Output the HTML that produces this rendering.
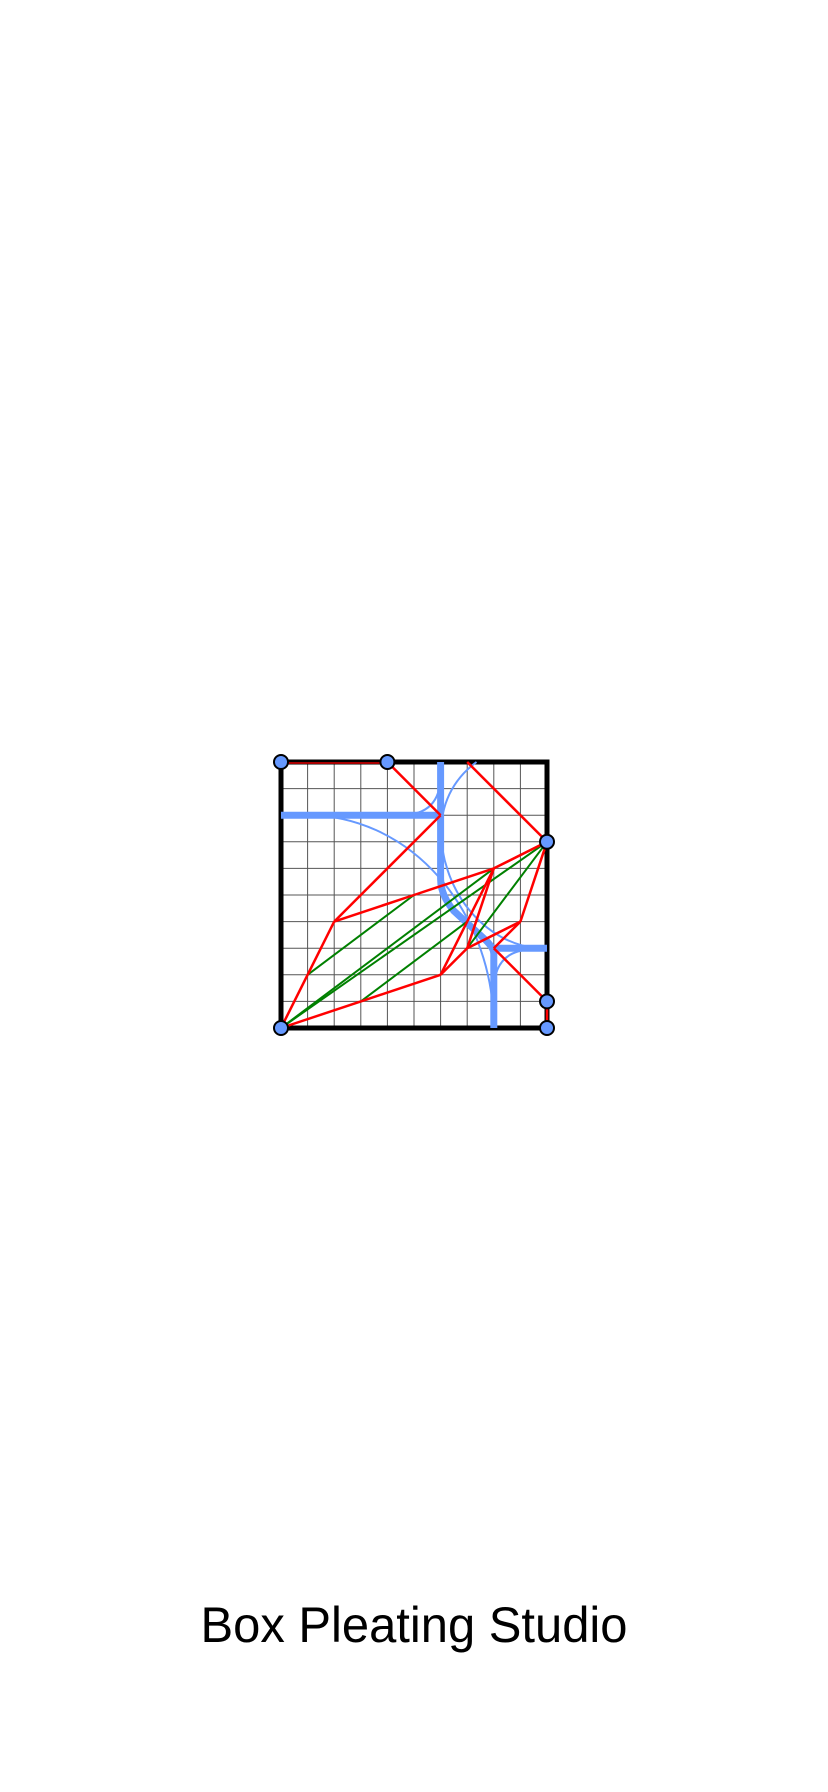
<!DOCTYPE html>
<html><head><meta charset="utf-8"><style>
html,body{margin:0;padding:0;background:#fff;}
svg{display:block;}
</style></head><body>
<svg width="828" height="1792" viewBox="0 0 828 1792">
<rect x="0" y="0" width="828" height="1792" fill="#ffffff"/>
<g id="cp"></g>
<text x="414" y="1642" text-anchor="middle" font-family="'Liberation Sans', 'DejaVu Sans', sans-serif" font-size="50" textLength="427" lengthAdjust="spacingAndGlyphs" fill="#000">Box Pleating Studio</text>
</svg>
<script>
const gridSize = 10;
const vertices = [[0,0],[4,0],[10,3],[10,9],[10,10],[0,10]];
const redLines = [[4,0,6,2],[7,0,10,3],[6,2,2,6],[2,6,1,8],[1,8,0,10],[2,6,5,5],[5,5,8,4],[8,4,10,3],[0,10,3,9],[3,9,6,8],[6,8,7,6],[6,8,7,7],[8,4,7,6],[8,4,7,7],[7,7,9,6],[9,6,10,3],[9,6,8,7],[8,7,10,9],[10,9,10,10]];
const greenLines = [[0,10,8,4],[0,10,10,3],[1,8,5,5],[3,9,7,6],[7,7,10,3]];
const thickBlue = [[0,2,6,2],[8,7,10,7],[8,7,8,10]];

const ox = 281, oy = 762, cell = 26.6;
const sx = v => ox + v*cell, sy = v => oy + v*cell;
const NS = 'http://www.w3.org/2000/svg';
const g = document.getElementById('cp');
function mk(tag, attrs){ const e = document.createElementNS(NS, tag); for (const k in attrs) e.setAttribute(k, attrs[k]); g.appendChild(e); return e; }

for (let i = 1; i < gridSize; i++) {
  const a = mk('line', {x1:sx(i), y1:sy(0), x2:sx(i), y2:sy(gridSize), stroke:'#555', 'stroke-width':1});
  
  
  const b = mk('line', {x1:sx(0), y1:sy(i), x2:sx(gridSize), y2:sy(i), stroke:'#555', 'stroke-width':1});
  
  
}
const border = mk('rect', {x:sx(0), y:sy(0), width:gridSize*cell, height:gridSize*cell, fill:'none', stroke:'#000', 'stroke-width':5});


const topEdge = mk('line', {x1:sx(0), y1:sy(0)+1, x2:sx(4), y2:sy(0)+1, stroke:'#a00', 'stroke-width':2});



const bluePaths = [
  `M${sx(1)} ${sy(2)} A${7*cell} ${8*cell} 0 0 1 ${sx(8)} ${sy(10)}`,
  `M${sx(6)} ${sy(2.5)} A${4*cell} ${4.6*cell} 0 0 0 ${sx(9.6)} ${sy(7)}`,
  `M${sx(4.5)} ${sy(2)} Q${sx(6)} ${sy(2)} ${sx(6)} ${sy(0.5)}`,
  `M${sx(6)} ${sy(2.8)} Q${sx(6)} ${sy(1)} ${sx(7.35)} ${sy(0)}`,
  `M${sx(8)} ${sy(8.6)} Q${sx(8)} ${sy(7.1)} ${sx(9.4)} ${sy(7.05)}`
];
bluePaths.forEach(d => {
  const p = mk('path', {d, fill:'none', stroke:'#6699ff', 'stroke-width':2});
  
  
});
const trunk = mk('path', {d:`M${sx(6)} ${sy(0)} L${sx(6)} ${sy(4.4)} Q${sx(6)} ${sy(5)} ${sx(6.5)} ${sy(5.6)} L${sx(7.7)} ${sy(6.7)} Q${sx(8)} ${sy(7)} ${sx(8)} ${sy(7.2)}`, fill:'none', stroke:'#6699ff', 'stroke-width':7});


thickBlue.forEach(l => {
  const e = mk('line', {x1:sx(l[0]), y1:sy(l[1]), x2:sx(l[2]), y2:sy(l[3]), stroke:'#6699ff', 'stroke-width':7});
  
  
});
greenLines.forEach(l => {
  const e = mk('line', {x1:sx(l[0]), y1:sy(l[1]), x2:sx(l[2]), y2:sy(l[3]), stroke:'#008000', 'stroke-width':2});
  
  
});
redLines.forEach(l => {
  const e = mk('line', {x1:sx(l[0]), y1:sy(l[1]), x2:sx(l[2]), y2:sy(l[3]), stroke:'#ff0000', 'stroke-width':2.5});
  
  
});
vertices.forEach(v => {
  const c = mk('circle', {cx:sx(v[0]), cy:sy(v[1]), r:7, fill:'#6699ff', stroke:'#000', 'stroke-width':2});
  
  
});
</script>
</body></html>
